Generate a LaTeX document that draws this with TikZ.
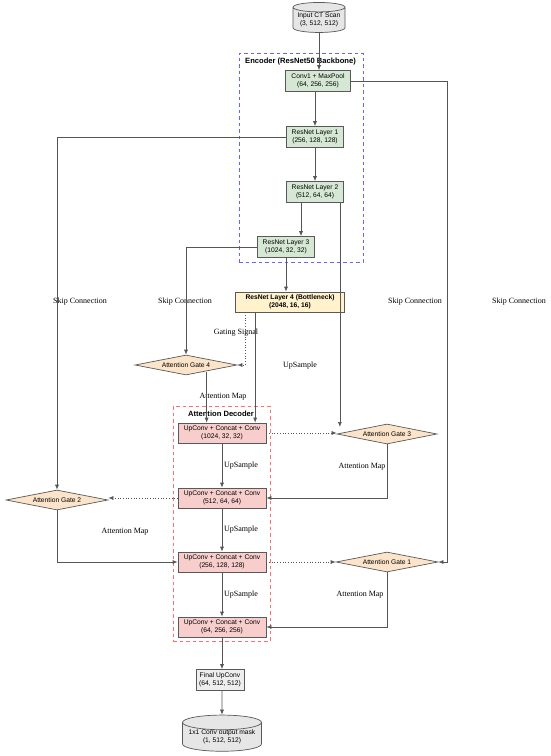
\documentclass[tikz,border=0pt]{standalone}
\usepackage{fontspec}
\setmainfont{Liberation Serif}
\setsansfont{Liberation Sans}
\usetikzlibrary{shapes.geometric,arrows.meta,calc}
\definecolor{encfill}{HTML}{D5E8D4}
\definecolor{decfill}{HTML}{F8CECC}
\definecolor{botfill}{HTML}{FFF2CC}
\definecolor{gatefill}{HTML}{FCE4CA}
\definecolor{cylfill}{HTML}{E6E6E6}
\definecolor{finfill}{HTML}{EEEEEE}
\definecolor{lnc}{HTML}{555555}
\definecolor{encline}{HTML}{6666FF}
\definecolor{decline}{HTML}{FF6F6F}
\tikzset{
  base/.style={draw=black!65, line width=0.7pt, align=center, inner sep=0pt, font=\sffamily\fontsize{6.7}{7.6}\selectfont},
  encbox/.style={base, rectangle, fill=encfill, minimum width=57, minimum height=21},
  decbox/.style={base, rectangle, fill=decfill, minimum width=88, minimum height=20},
  botbox/.style={base, rectangle, fill=botfill, minimum width=109, minimum height=20, font=\sffamily\bfseries\fontsize{6.7}{7.6}\selectfont},
  finbox/.style={base, rectangle, fill=finfill, minimum width=48, minimum height=21},
  gate/.style={base, diamond, aspect=5, fill=gatefill, minimum width=102, minimum height=20},
  cyl/.style={base, cylinder, shape border rotate=90, aspect=0.22, fill=cylfill},
  arr/.style={draw=lnc, line width=0.7pt, -{Latex[length=5pt,width=4pt]}},
  dotarr/.style={arr, dotted},
  lbl/.style={font=\rmfamily\fontsize{8}{9}\selectfont, inner sep=0pt},
  grpbox/.style={rectangle, line width=1pt, dash pattern=on 3.5pt off 3pt, inner sep=0pt},
  grplbl/.style={font=\sffamily\bfseries\fontsize{7.6}{8.5}\selectfont, inner sep=0pt}
}
\begin{document}
\begin{tikzpicture}[x=1pt,y=-1pt]
\useasboundingbox[fill=white] (0,0) rectangle (550,756);
% groups
\node[grpbox, draw=encline, minimum width=124, minimum height=209] (encg) at (301,157.5) {};
\node[grplbl, anchor=west] (encl) at (245,62) {Encoder (ResNet50 Backbone)};
\node[grpbox, draw=decline, minimum width=97, minimum height=235] (decg) at (221.5,523.5) {};
\node[grplbl] (decl) at (221,414) {Attention Decoder};
% nodes
\node[cyl, minimum width=52, minimum height=30] (in) at (319,20) {Input CT Scan\\(3, 512, 512)};
\node[encbox, minimum width=65] (c1) at (318,81) {Conv1 + MaxPool\\(64, 256, 256)};
\node[encbox] (l1) at (315,137) {ResNet Layer 1\\(256, 128, 128)};
\node[encbox] (l2) at (315,192) {ResNet Layer 2\\(512, 64, 64)};
\node[encbox] (l3) at (286,247) {ResNet Layer 3\\(1024, 32, 32)};
\node[botbox] (b) at (290,302) {ResNet Layer 4 (Bottleneck)\\(2048, 16, 16)};
\node[gate] (g4) at (186,365) {Attention Gate 4};
\node[gate, minimum width=100] (g3) at (387,434) {Attention Gate 3};
\node[gate] (g2) at (57,500) {Attention Gate 2};
\node[gate] (g1) at (387,562) {Attention Gate 1};
\node[decbox] (d1) at (222,433) {UpConv + Concat + Conv\\(1024, 32, 32)};
\node[decbox] (d2) at (222,498) {UpConv + Concat + Conv\\(512, 64, 64)};
\node[decbox] (d3) at (222,562) {UpConv + Concat + Conv\\(256, 128, 128)};
\node[decbox] (d4) at (222,627) {UpConv + Concat + Conv\\(64, 256, 256)};
\node[finbox] (f) at (220,680) {Final UpConv\\(64, 512, 512)};
\node[cyl, minimum width=79, minimum height=27] (out) at (222,737) {1x1 Conv output mask\\(1, 512, 512)};
% labels
\node[lbl] (s1) at (80,302) {Skip Connection};
\node[lbl] (s2) at (185,302) {Skip Connection};
\node[lbl] (s3) at (415,302) {Skip Connection};
\node[lbl] (s4) at (519,302) {Skip Connection};
\node[lbl] (gs) at (236,333) {Gating Signal};
\node[lbl] (up0) at (300,366) {UpSample};
\node[lbl] (am4) at (223,397) {Attention Map};
\node[lbl] (am3) at (362,467) {Attention Map};
\node[lbl] (am2) at (125,532) {Attention Map};
\node[lbl] (am1) at (360,595) {Attention Map};
\node[lbl] (up1) at (241,466) {UpSample};
\node[lbl] (up2) at (241,530) {UpSample};
\node[lbl] (up3) at (241,595) {UpSample};
% connectors: encoder
\draw[arr] (in.south) -- (in.south |- c1.north);
\draw[arr] (c1.south -| l1.north) -- (l1.north);
\draw[arr] (l1) -- (l2);
\draw[arr] (l2.south -| 301,0) -- (l3.north -| 301,0);
\draw[arr] (l3.south) -- (l3.south |- b.north);
% skip connections
\draw[arr] (l1.west) -| (g2.north);
\draw[arr] (l3.west) -| (g4.north);
\coordinate (r1) at ($(g1.east)+(9,0)$);
\draw[arr] (c1.east) -| (r1) -- (g1.east);
\coordinate (s2s) at ($(l2.south east)+(-4,0)$);
\draw[arr] (s2s) -- (s2s |- 0,427);
% bottleneck
\coordinate (bs) at ($(b.south west)+(20,0)$);
\draw[arr] (bs) -- (bs |- d1.north);
\coordinate (bg) at ($(b.south west)+(10,0)$);
\draw[dotarr] (bg) |- (g4.east);
\coordinate (g4o) at ($(d1.north west)+(29,-51)$);
\draw[arr] (g4o) -- (g4o |- d1.north);
% decoder
\draw[arr] (d1) -- (d2);
\draw[arr] (d2) -- (d3);
\draw[arr] (d3) -- (d4);
\draw[arr] (d4.south) -- (d4.south |- f.north);
\draw[arr] (f.south -| d4.south) -- (out.north);
\draw[dotarr] (d1.east) -- (d1.east -| g3.west);
\draw[dotarr] (d2.west) -- (d2.west -| g2.east);
\draw[dotarr] (d3.east) -- (g1.west);
\draw[arr] (g3.south) |- (d2.east);
\draw[arr] (g2.south) |- (d3.west);
\draw[arr] (g1.south) |- (d4.east);
\end{tikzpicture}
\end{document}
